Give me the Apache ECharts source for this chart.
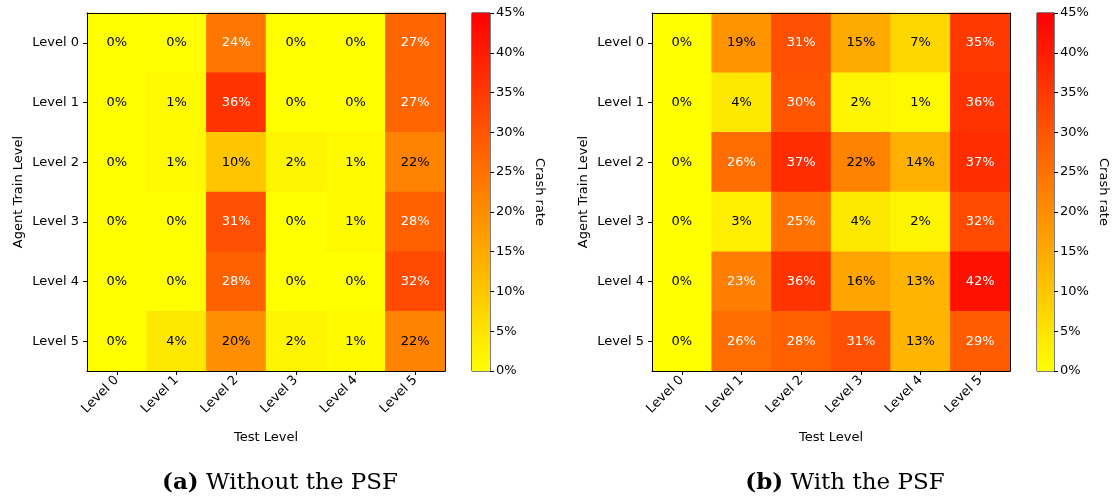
<!DOCTYPE html>
<html>
<head>
<meta charset="utf-8">
<script src="https://cdn.jsdelivr.net/npm/echarts@6/dist/echarts.min.js"></script>
<style>
html,body{margin:0;padding:0;background:#fff;}
#chart{width:1117px;height:497px;}
</style>
</head>
<body>
<div id="chart"></div>
<script>
// ---- data ----
const testLevels = ['Level 0','Level 1','Level 2','Level 3','Level 4','Level 5'];
const trainLevels = ['Level 0','Level 1','Level 2','Level 3','Level 4','Level 5'];
// rows = agent train level, columns = test level (crash rate, %)
const withoutPSF = [
  [0, 0, 24, 0, 0, 27],
  [0, 1, 36, 0, 0, 27],
  [0, 1, 10, 2, 1, 22],
  [0, 0, 31, 0, 1, 28],
  [0, 0, 28, 0, 0, 32],
  [0, 4, 20, 2, 1, 22]
];
const withPSF = [
  [0, 19, 31, 15, 7, 35],
  [0, 4, 30, 2, 1, 36],
  [0, 26, 37, 22, 14, 37],
  [0, 3, 25, 4, 2, 32],
  [0, 23, 36, 16, 13, 42],
  [0, 26, 28, 31, 13, 29]
];
const colorbarTicks = [0, 5, 10, 15, 20, 25, 30, 35, 40, 45];
const captions = [['(a)', 'Without the PSF'], ['(b)', 'With the PSF']];

const cMin = colorbarTicks[0], cMax = colorbarTicks[colorbarTicks.length - 1];
const FONT = 'DejaVu Sans';
const FS = 13;

function toData(mat) {
  const out = [];
  mat.forEach((row, r) => row.forEach((v, c) => {
    out.push({ value: [c, r, v], label: { color: v > (cMax / 2) ? '#ffffff' : '#000000' } });
  }));
  return out;
}

const panels = [
  { left: 87, cbLeft: 472, cbWidth: 18, mat: withoutPSF, cap: captions[0], capX: 275 },
  { left: 652, cbLeft: 1037, cbWidth: 17, mat: withPSF, cap: captions[1], capX: 840 }
];
const TOP = 13, SIZE = 358;

const grid = [], xAxis = [], yAxis = [], series = [], visualMap = [], title = [];
panels.forEach((p, i) => {
  const g = i * 2;       // heatmap grid index
  const cb = i * 2 + 1;  // colorbar grid index
  grid.push({ left: p.left, top: TOP, width: SIZE, height: SIZE, show: false });
  grid.push({ left: p.cbLeft, top: TOP, width: p.cbWidth, height: SIZE, show: true,
    borderColor: '#000', borderWidth: 1, backgroundColor: 'transparent' });

  const axisText = { color: '#000', fontFamily: FONT, fontSize: FS };
  // heatmap axes
  xAxis.push({ type: 'category', gridIndex: g, data: testLevels, position: 'bottom',
    name: 'Test Level', nameLocation: 'middle', nameGap: 60,
    nameTextStyle: { color: '#000', fontFamily: FONT, fontSize: FS },
    axisLine: { show: true, onZero: false, lineStyle: { color: '#000', width: 1 } },
    axisTick: { show: true, alignWithLabel: true, length: 4, lineStyle: { color: '#000' } },
    axisLabel: Object.assign({ rotate: 45, margin: 7, interval: 0 }, axisText),
    splitLine: { show: false }, z: 10 });
  xAxis.push({ type: 'category', gridIndex: g, data: testLevels, position: 'top',
    axisLine: { show: true, onZero: false, lineStyle: { color: '#000', width: 1 } },
    axisTick: { show: false }, axisLabel: { show: false }, splitLine: { show: false }, z: 10 });
  yAxis.push({ type: 'category', gridIndex: g, data: trainLevels, inverse: true, position: 'left',
    name: 'Agent Train Level', nameLocation: 'middle', nameGap: 62, nameRotate: 90,
    nameTextStyle: { color: '#000', fontFamily: FONT, fontSize: FS },
    axisLine: { show: true, onZero: false, lineStyle: { color: '#000', width: 1 } },
    axisTick: { show: true, alignWithLabel: true, length: 4, lineStyle: { color: '#000' } },
    axisLabel: Object.assign({ margin: 8, interval: 0 }, axisText),
    splitLine: { show: false }, z: 10 });
  yAxis.push({ type: 'category', gridIndex: g, data: trainLevels, inverse: true, position: 'right',
    axisLine: { show: true, onZero: false, lineStyle: { color: '#000', width: 1 } },
    axisTick: { show: false }, axisLabel: { show: false }, splitLine: { show: false }, z: 10 });

  // colorbar axes
  xAxis.push({ type: 'category', gridIndex: cb, data: ['cb'], show: false });
  yAxis.push({ type: 'value', gridIndex: cb, min: cMin, max: cMax, interval: 5, position: 'right',
    name: 'Crash rate', nameLocation: 'middle', nameGap: 43, nameRotate: -90,
    nameTextStyle: { color: '#000', fontFamily: FONT, fontSize: FS },
    axisLine: { show: false },
    axisTick: { show: true, length: 4, lineStyle: { color: '#000' } },
    axisLabel: Object.assign({ margin: 6, formatter: v => v + '%' }, axisText),
    splitLine: { show: false } });

  const xi = i * 3, yi = i * 3;
  series.push({ type: 'heatmap', xAxisIndex: xi, yAxisIndex: yi, data: toData(p.mat),
    label: { show: true, formatter: d => d.value[2] + '%', fontFamily: FONT, fontSize: FS },
    itemStyle: { borderWidth: 0 }, emphasis: { disabled: true } });
  series.push({ type: 'bar', xAxisIndex: xi + 2, yAxisIndex: yi + 2, data: [cMax], barWidth: '100%',
    silent: true,
    itemStyle: { color: new echarts.graphic.LinearGradient(0, 0, 0, 1,
      [{ offset: 0, color: '#ff0000' }, { offset: 1, color: '#ffff00' }]) } });

  visualMap.push({ type: 'continuous', show: false, min: cMin, max: cMax, dimension: 2,
    seriesIndex: i * 2, inRange: { color: ['#ffff00', '#ff0000'] } });

  title.push({ text: '{b|' + p.cap[0] + '} ' + p.cap[1], left: p.capX, top: 467,
    textAlign: 'center',
    textStyle: { fontFamily: 'DejaVu Serif', fontSize: 23, fontWeight: 'normal', color: '#000',
      rich: { b: { fontFamily: 'DejaVu Serif', fontSize: 23, fontWeight: 'bold', color: '#000' } } } });
});

const chart = echarts.init(document.getElementById('chart'), null, { renderer: 'canvas' });
chart.setOption({ animation: false, backgroundColor: '#fff', title, grid, xAxis, yAxis, series, visualMap });
</script>
</body>
</html>
